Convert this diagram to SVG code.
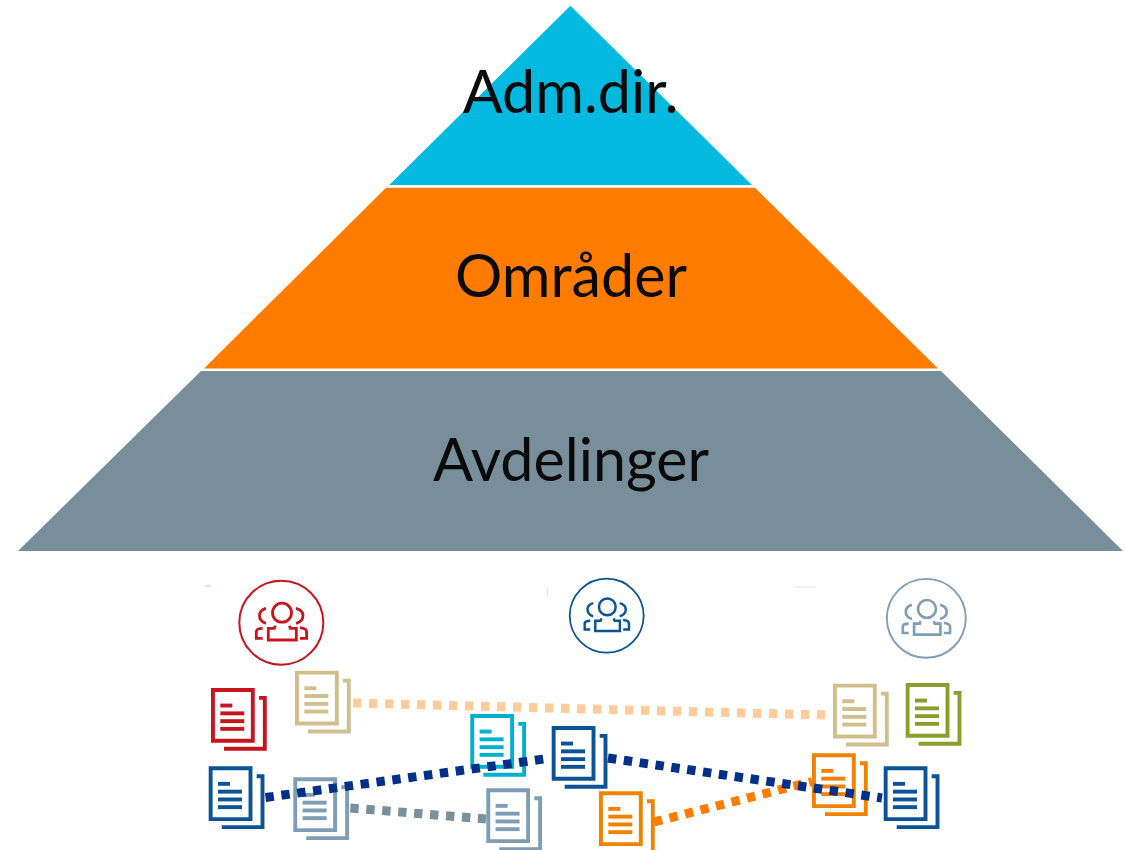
<svg xmlns="http://www.w3.org/2000/svg" xmlns:xlink="http://www.w3.org/1999/xlink" width="1127" height="850" viewBox="0 0 1127 850">
<style>
.lbl{font-family:"Lato","Liberation Sans",sans-serif;font-size:59.2px;fill:#0a0a0a;text-anchor:middle}
.dl{fill:none;stroke-width:9;stroke-dasharray:8.4 7.6}
.ic{fill:none;stroke:currentColor}
</style>
<defs>
<g id="doc" fill="currentColor">
<path fill="none" stroke="currentColor" stroke-width="3.9" d="M1.95 1.95H41.8V52.8H1.95Z"/>
<path fill="none" stroke="currentColor" stroke-width="3.9" d="M48 9.9H53.8V60.8H13"/>
<rect x="9.3" y="15.6" width="12" height="3.9"/>
<rect x="9.3" y="23.4" width="24" height="3.9"/>
<rect x="9.3" y="31.2" width="24" height="3.9"/>
<rect x="9.3" y="38.9" width="24" height="3.9"/>
</g>
<g id="people" class="ic">
<circle r="42" stroke-width="2"/>
<circle cx="0.7" cy="-10" r="9.5" stroke-width="2.8"/>
<path stroke-width="2.8" d="M-6 3L-7 5.7H-13V17.3H15V5.7H9L8 3"/>
<path stroke-width="2.8" d="M-15.3-14.3C-24-12-24-2-15.3 .7M14.7-14.3C24-12 24-2 14.7 .7"/>
<path stroke-width="2.8" d="M-18.7 5.7Q-25 5.7-25 9V15.7H-18.7M18.7 5Q25.3 5.7 25.3 9V15.7H18.7"/>
</g>
</defs>
<rect width="1127" height="850" fill="#fff"/>
<g id="level-adm"><path d="M570.4 5.7L752 185H389.3Z" fill="#03b9e0"/><text class="lbl" x="570.5" y="113">Adm.dir.</text></g>
<g id="level-omrader"><path d="M386 187.8H755L938 368.5H204Z" fill="#ff7c00"/><text class="lbl" x="571" y="297">Områder</text></g>
<g id="level-avdelinger"><path d="M201 371H941L1123 551H18Z" fill="#788e9b"/><text class="lbl" x="571" y="481">Avdelinger</text></g>
<g id="group-red" color="#c8141e"><use xlink:href="#people" transform="translate(281.3 622.7)"/></g>
<g id="group-blue" color="#0b5394"><use xlink:href="#people" transform="translate(606.7 615.7) scale(.88)"/></g>
<g id="group-gray" color="#7f9db5"><use xlink:href="#people" transform="translate(926.3 618.3) scale(.94)"/></g>
<g id="specks">
<rect x="205" y="585.6" width="6" height="1" fill="#f8b8a8"/>
<rect x="547" y="589" width="1" height="8" fill="#dde1e4"/>
<rect x="795" y="586.5" width="21" height="1" fill="#e2e5e8"/>
</g>
<g id="doc-red" color="#c8141e"><use xlink:href="#doc" x="211" y="688"/></g>
<g id="doc-tan-1" color="#d0be8c"><use xlink:href="#doc" x="295" y="670.7"/></g>
<g id="doc-blue-1" color="#0b5394"><use xlink:href="#doc" x="208.7" y="766.3"/></g>
<g id="doc-gray-1" color="#7f9db5"><use xlink:href="#doc" x="293.3" y="777.3"/></g>
<g id="doc-cyan" color="#00b0cc"><use xlink:href="#doc" x="470.3" y="714"/></g>
<g id="doc-gray-2" color="#7f9db5"><use xlink:href="#doc" x="486.3" y="788.3"/></g>
<g id="doc-blue-2" color="#0b5394"><use xlink:href="#doc" x="551.7" y="726"/></g>
<g id="doc-orange-1" color="#f08200"><use xlink:href="#doc" x="599" y="791.3"/></g>
<g id="doc-tan-2" color="#d0be8c"><use xlink:href="#doc" x="833" y="683.7"/></g>
<g id="doc-green" color="#8a9e2e"><use xlink:href="#doc" x="905.7" y="683"/></g>
<g id="doc-orange-2" color="#f08200"><use xlink:href="#doc" x="812" y="753.3"/></g>
<g id="doc-blue-3" color="#0b5394"><use xlink:href="#doc" x="883.7" y="766.3"/></g>
<g id="connectors">
<line class="dl" x1="353" y1="703" x2="825" y2="715" stroke="#ffcc99"/>
<line class="dl" x1="350.3" y1="808" x2="486" y2="819" stroke="#7a909c"/>
<line class="dl" x1="654" y1="822" x2="812" y2="781.5" stroke="#ff7c00"/>
<line class="dl" x1="265.5" y1="797.5" x2="544" y2="759" stroke="#003087"/>
<line class="dl" x1="608" y1="758" x2="882" y2="798" stroke="#003087"/>
</g>
</svg>
